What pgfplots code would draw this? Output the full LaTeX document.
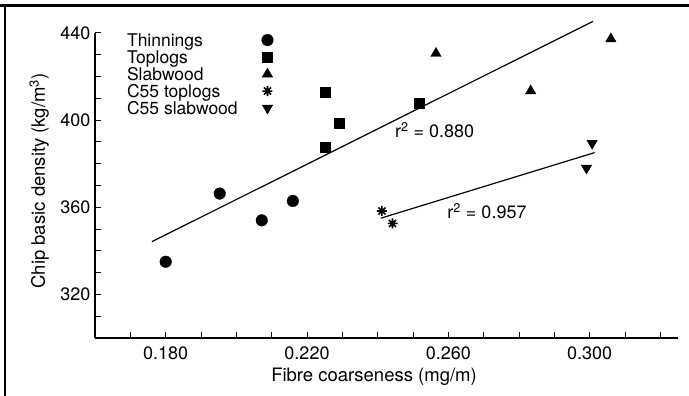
\documentclass[border=0pt]{standalone}
\usepackage{fontspec}
\setmainfont{TeX Gyre Heros}
\usepackage{pgfplots}
\pgfplotsset{compat=1.18}
\pgfdeclareplotmark{ast8}{%
  \pgfpathmoveto{\pgfqpoint{-\pgfplotmarksize}{0pt}}\pgfpathlineto{\pgfqpoint{\pgfplotmarksize}{0pt}}%
  \pgfpathmoveto{\pgfqpoint{0pt}{-\pgfplotmarksize}}\pgfpathlineto{\pgfqpoint{0pt}{\pgfplotmarksize}}%
  \pgfpathmoveto{\pgfqpoint{-0.707\pgfplotmarksize}{-0.707\pgfplotmarksize}}\pgfpathlineto{\pgfqpoint{0.707\pgfplotmarksize}{0.707\pgfplotmarksize}}%
  \pgfpathmoveto{\pgfqpoint{-0.707\pgfplotmarksize}{0.707\pgfplotmarksize}}\pgfpathlineto{\pgfqpoint{0.707\pgfplotmarksize}{-0.707\pgfplotmarksize}}%
  \pgfusepathqstroke}
\begin{document}
\begin{tikzpicture}
\useasboundingbox (0,0) rectangle (689bp,396bp);
\draw[line width=3bp] (0,390.5bp) -- (689bp,390.5bp);
\draw[line width=2.5bp] (5bp,392bp) -- (5bp,0);
\begin{axis}[
  at={(95bp,58bp)}, anchor=south west,
  scale only axis, width=583bp, height=305bp,
  xmin=0.16, xmax=0.325, ymin=300, ymax=440,
  axis lines*=left,
  clip=false,
  axis line style={line width=1.6bp},
  tick align=inside,
  major tick length=6bp, minor tick length=6bp,
  every tick/.style={black, line width=1bp},
  xtick={0.18,0.22,0.26,0.30},
  xticklabels={0.180,0.220,0.260,0.300},
  minor xtick={0.17,0.19,0.20,0.21,0.23,0.24,0.25,0.27,0.28,0.29,0.31,0.32},
  ytick={320,360,400,440},
  yticklabels={320,360,400,440},
  minor ytick={310,330,340,350,370,380,390,410,420,430},
  /pgf/number format/assume math mode=true,
  xticklabel style={inner sep=0pt, anchor=north, yshift=-8.7bp, font=\fontsize{18bp}{20bp}\selectfont},
  yticklabel style={inner sep=0pt, anchor=east, xshift=-4.3bp, font=\fontsize{18bp}{20bp}\selectfont},
  xlabel={Fibre coarseness (mg/m)},
  ylabel={Chip basic density (kg/m\textsuperscript{3})},
  xlabel style={at={(axis description cs:0.4786,-0.143)}, anchor=base, inner sep=0pt, font=\fontsize{18.5bp}{21bp}\selectfont},
  ylabel style={at={(axis description cs:-0.0858,0.515)}, anchor=base, rotate=0, inner sep=0pt, font=\fontsize{18.5bp}{21bp}\selectfont},
  legend style={at={(axis description cs:0.055,0.9965)}, anchor=north west, draw=none, fill=none,
    inner sep=0pt, outer sep=0pt, column sep=24bp, row sep=0pt,
    font=\fontsize{17.5bp}{20bp}\selectfont,
    nodes={inner sep=0pt, text height=12bp, text depth=5bp}},
  legend cell align=left,
  legend plot pos=right,
  legend image code/.code={\draw[#1] plot coordinates {(0bp,2.5bp)};},
]
\addplot[only marks, black, mark=*, mark size=5.8bp] coordinates {
  (0.1800,335.0) (0.1953,366.3) (0.2072,354.0) (0.2160,362.9)};
\addlegendentry{Thinnings}
\addplot[only marks, black, mark=square*, mark size=5bp] coordinates {
  (0.2251,412.9) (0.2290,398.6) (0.2251,387.8) (0.2518,407.8)};
\addlegendentry{Toplogs}
\addplot[only marks, black, mark=triangle*, mark size=6bp] coordinates {
  (0.2565,430.6) (0.3060,437.3) (0.2833,413.4)};
\addlegendentry{Slabwood}
\addplot[only marks, black, mark=ast8, mark size=5bp, mark options={line width=1.6bp}] coordinates {
  (0.2412,358.3) (0.2442,352.6)};
\addlegendentry{C55 toplogs}
\addplot[only marks, black, mark=triangle*, mark size=6bp, mark options={rotate=180, fill=black}] coordinates {
  (0.3007,389.4) (0.2991,378.0)};
\addlegendentry{C55 slabwood}
\addplot[black, line width=1.2bp, no marks, forget plot] coordinates {(0.1761,344.2) (0.3009,445.3)};
\addplot[black, line width=1.2bp, no marks, forget plot] coordinates {(0.2409,355.0) (0.3014,385.1)};
\node[anchor=base west, inner sep=0pt, font=\fontsize{18bp}{20bp}\selectfont] at (axis cs:0.2449,392.0) {r\textsuperscript{2} = 0.880};
\node[anchor=base west, inner sep=0pt, font=\fontsize{18bp}{20bp}\selectfont] at (axis cs:0.2597,354.8) {r\textsuperscript{2} = 0.957};
\end{axis}
\end{tikzpicture}
\end{document}
